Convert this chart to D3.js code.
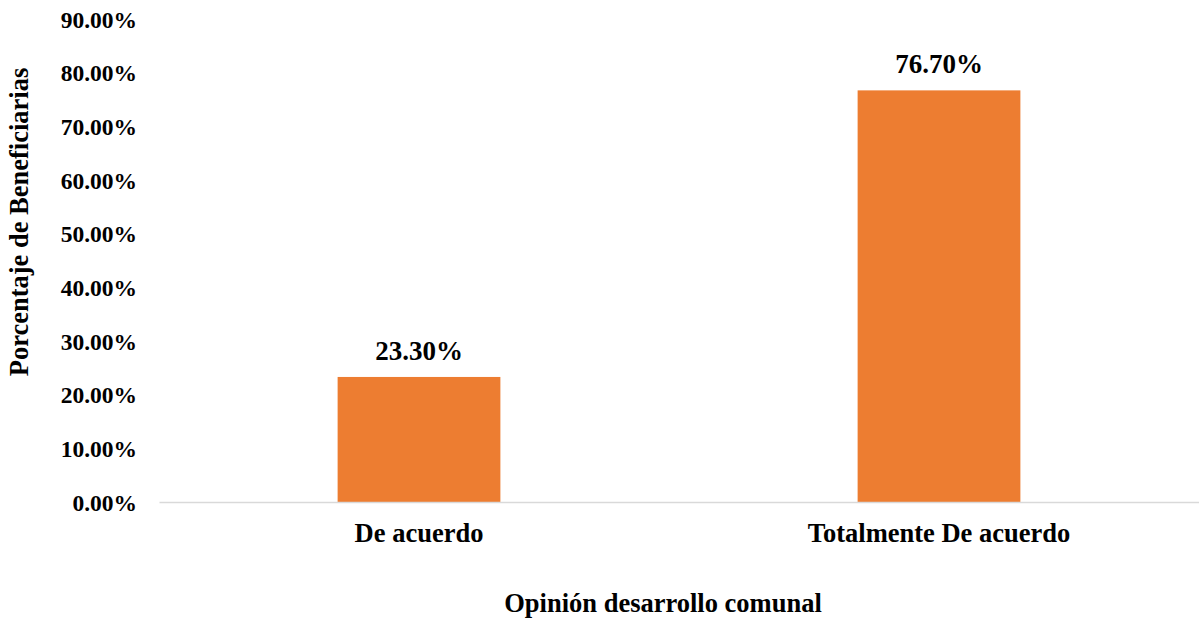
<!DOCTYPE html>
<html><head><meta charset="utf-8">
<script src="https://cdn.jsdelivr.net/npm/d3@7"></script>
<style>body{margin:0;background:#fff;} text{font-family:"Liberation Serif","Times New Roman",serif;font-weight:bold;fill:#000;}</style>
</head><body><svg id="c" width="1199" height="621"></svg>
<script>
const categories = ["De acuerdo", "Totalmente De acuerdo"];
const values = [0.233, 0.767];
const labels = ["23.30%", "76.70%"];
const yTicks = [0, 0.1, 0.2, 0.3, 0.4, 0.5, 0.6, 0.7, 0.8, 0.9];

(function(){
const svg = d3.select("#c");
const pLeft = 159, pRight = 1199, pTop = 19, pBottom = 502;
const x = d3.scaleBand().domain(categories).range([pLeft, pRight]).paddingInner(0.687).paddingOuter(0.3435);
const y = d3.scaleLinear().domain([0, 0.9]).range([pBottom, pTop]);

const ya = svg.append("g").attr("transform", `translate(${pLeft},0)`)
  .call(d3.axisLeft(y).tickValues(yTicks).tickFormat(d => (d*100).toFixed(2) + "%").tickSize(0).tickPadding(22));
ya.select(".domain").remove();
ya.selectAll("text").style("font-size", "23.5px").style("font-family", "Liberation Serif").attr("font-weight","bold").attr("dy", "0.35em");

svg.selectAll("rect.bar").data(values).join("rect").attr("class","bar")
  .attr("x", (d,i) => x(categories[i])).attr("width", x.bandwidth())
  .attr("y", d => y(d)).attr("height", d => pBottom - y(d)).attr("fill", "#ED7D31");

const xa = svg.append("g").attr("transform", `translate(0,${pBottom})`)
  .call(d3.axisBottom(x).tickSize(0).tickPadding(21));
xa.select(".domain").attr("stroke", "#d9d9d9").attr("stroke-width", 1.5);
xa.selectAll("text").style("font-size", "26.5px").style("font-family", "Liberation Serif").attr("font-weight","bold").attr("dy","0.71em");

svg.selectAll("text.lab").data(values).join("text").attr("class","lab")
  .attr("x", (d,i) => x(categories[i]) + x.bandwidth()/2).attr("y", d => y(d) - 17)
  .attr("text-anchor","middle").style("font-size","27px").text((d,i) => labels[i]);

svg.append("text").attr("x", 663).attr("y", 612).attr("text-anchor","middle").style("font-size","26.5px").text("Opinión desarrollo comunal");
svg.append("text").attr("transform","translate(28,222) rotate(-90)").attr("text-anchor","middle").style("font-size","26.5px").text("Porcentaje de Beneficiarias");
})();
</script></body></html>
